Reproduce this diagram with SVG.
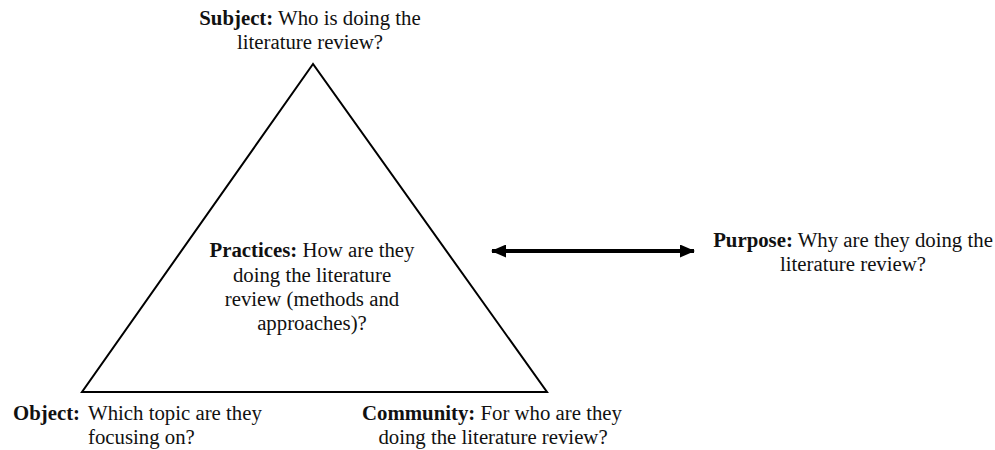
<svg xmlns="http://www.w3.org/2000/svg" width="995" height="450" viewBox="0 0 995 450">
<style>
text{font-family:"Liberation Serif","Times New Roman",serif;font-size:20.8px;fill:#111}
.b{font-weight:bold}
.c{text-anchor:middle}
</style>
<defs>
<marker id="ah" viewBox="0 0 15 13" refX="14" refY="6.5" markerWidth="15" markerHeight="13" markerUnits="userSpaceOnUse" orient="auto-start-reverse">
<path d="M0,0 L15,6.5 L0,13 Z" fill="#000"/>
</marker>
</defs>
<rect width="995" height="450" fill="#fff"/>
<g id="triangle">
<polygon points="313,64 82,392 547,392" fill="none" stroke="#000" stroke-width="2"/>
</g>
<g id="connectors">
<line x1="492" y1="251" x2="694" y2="251" stroke="#000" stroke-width="4" marker-start="url(#ah)" marker-end="url(#ah)"/>
</g>
<g id="subject">
<text class="c" x="310" y="25"><tspan class="b">Subject:</tspan> Who is doing the</text>
<text class="c" x="310" y="49">literature review?</text>
</g>
<g id="practices">
<text class="c" x="312" y="257"><tspan class="b">Practices:</tspan> How are they</text>
<text class="c" x="312" y="282">doing the literature</text>
<text class="c" x="312" y="306">review (methods and</text>
<text class="c" x="312" y="330">approaches)?</text>
</g>
<g id="purpose">
<text class="c" x="853" y="247"><tspan class="b">Purpose:</tspan> Why are they doing the</text>
<text class="c" x="853" y="271">literature review?</text>
</g>
<g id="object">
<text x="13" y="420"><tspan class="b">Object:</tspan> <tspan x="88">Which topic are they</tspan></text>
<text x="88" y="444">focusing on?</text>
</g>
<g id="community">
<text class="c" x="492" y="420"><tspan class="b">Community:</tspan> For who are they</text>
<text class="c" x="493" y="444">doing the literature review?</text>
</g>
</svg>
